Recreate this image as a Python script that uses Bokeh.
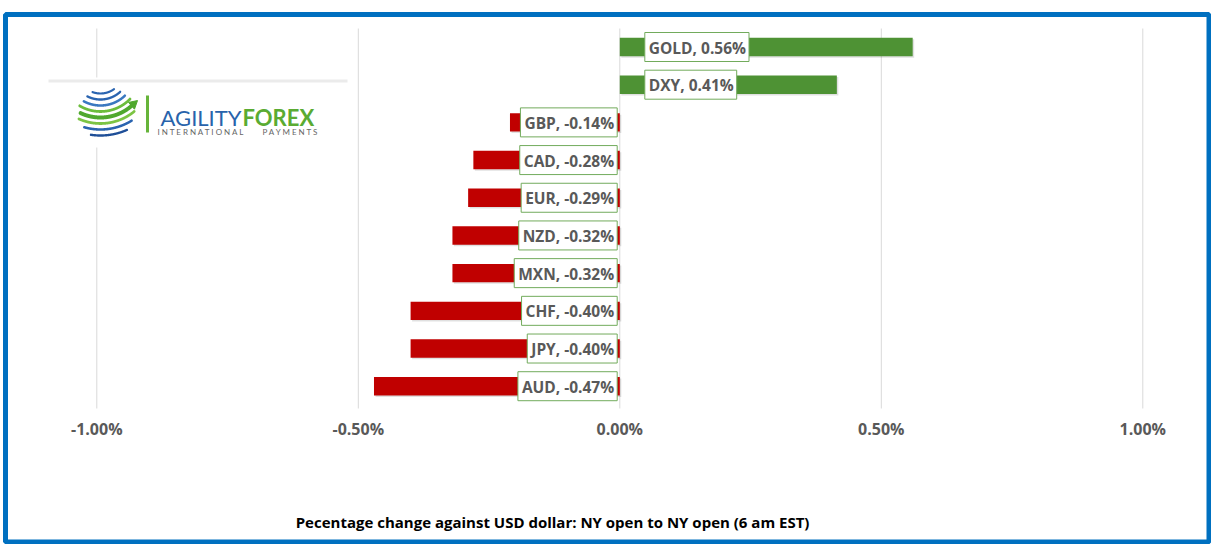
import numpy as np
from bokeh.plotting import figure
from bokeh.models import Range1d
from bokeh.embed import file_html
from bokeh.resources import INLINE
from bokeh.core.properties import value

# ---------------- data ----------------
names = ["GOLD", "DXY", "GBP", "CAD", "EUR", "NZD", "MXN", "CHF", "JPY", "AUD"]
label_values = [0.56, 0.41, -0.14, -0.28, -0.29, -0.32, -0.32, -0.40, -0.40, -0.47]
bar_values = [0.56, 0.415, -0.21, -0.28, -0.29, -0.32, -0.32, -0.40, -0.40, -0.47]
tick_values = [-1.0, -0.5, 0.0, 0.5, 1.0]
tick_labels = ["-1.00%", "-0.50%", "0.00%", "0.50%", "1.00%"]
title_text = "Pecentage change against USD dollar: NY open to NY open  (6 am EST)"

# ---------------- layout ----------------
W, H = 1211, 544
X0, SX = 619.3, 523.0     # canvas px of 0 %, px per 1 %
Y0, SY = 46.5, 37.69      # canvas px of first row, px per row


def dx(px):
    return (px - X0) / SX


def dy(py):
    return (py - Y0) / SY


p = figure(width=W, height=H,
           x_range=Range1d(-X0 / SX, (W - X0) / SX),
           y_range=Range1d((H - Y0) / SY, -Y0 / SY),
           x_axis_location=None, y_axis_location=None,
           toolbar_location=None, output_backend="svg",
           min_border=0, outline_line_color=None,
           background_fill_color="white", border_fill_color="white")
p.grid.visible = False

FONT = value("Open Sans")
GRAY = "#595959"

# grid lines
p.segment(x0=tick_values, y0=dy(28), x1=tick_values, y1=dy(408),
          line_color="#d9d9d9", line_width=1)

# tick labels
p.text(x=tick_values, y=dy(428), text=tick_labels, text_align="center",
       text_baseline="middle", text_font=FONT, text_font_style="bold",
       text_font_size="16px", text_color=GRAY)

# bars
rows = list(range(len(names)))
half = 9.2 / SY
lefts = [min(0, v) for v in bar_values]
rights = [max(0, v) for v in bar_values]
colors = ["#4e9234" if v > 0 else "#c00000" for v in bar_values]
ox, oy = 1.5 / SX, 1.5 / SY
p.quad(left=[l + ox for l in lefts], right=[r + ox for r in rights],
       top=[r - half + oy for r in rows], bottom=[r + half + oy for r in rows],
       fill_color="black", fill_alpha=0.12, line_color=None)
p.quad(left=lefts, right=rights, top=[r - half for r in rows],
       bottom=[r + half for r in rows], fill_color=colors, line_color=None)

# data labels
labels = [f"{n}, {v:.2f}%" for n, v in zip(names, label_values)]
aligns = ["left" if v > 0 else "right" for v in label_values]
offsets = [25 if v > 0 else -2.6 for v in label_values]
p.text(x=[0] * len(rows), y=rows, text=labels, text_align=aligns,
       x_offset=offsets, text_baseline="middle", text_font=FONT,
       text_font_style="bold", text_font_size="15.5px", text_color=GRAY,
       background_fill_color="white", border_line_color="#72ab5c",
       border_line_width=1, padding=(4, 3, 4, 3))

# ---------------- logo ----------------
p.quad(left=dx(48), right=dx(348), top=dy(77), bottom=dy(147),
       fill_color="white", line_color=None)
p.segment(x0=dx(48), y0=dy(80.5), x1=dx(347), y1=dy(80.5),
          line_color="#ebebeb", line_width=3)

# globe made of curved stripes
SXc, SYc, SR = 106.0, 113.5, 26.0      # sphere centre / radius (px)
CXc, CYc = 100.0, 70.0                 # centre of stripe curvature
stripes = [(23, "#2a64b0", 2.2), (29, "#2a64b0", 2.4), (35, "#3a78c0", 2.6),
           (41, "#6cbd3c", 2.8), (47, "#4fa82e", 4.0), (53, "#7cc444", 2.8),
           (59, "#2a64b0", 2.6), (65, "#1f4f98", 2.4), (70, "#1f4f98", 2.0)]
for r, col, w in stripes:
    xs = np.linspace(CXc - r + 0.01, CXc + r - 0.01, 500)
    ys = CYc + np.sqrt(r * r - (xs - CXc) ** 2)
    d = np.hypot(xs - SXc, ys - SYc)
    if col == "#4fa82e":
        keep = (d <= SR) | ((xs > SXc) & (xs <= 131))
    elif col in ("#6cbd3c", "#7cc444"):
        keep = d <= SR + 2
    else:
        keep = d <= SR
    if keep.sum() < 2:
        continue
    idx = np.where(keep)[0]
    xs, ys = xs[idx[0]:idx[-1] + 1], ys[idx[0]:idx[-1] + 1]
    p.line([dx(v) for v in xs], [dy(v) for v in ys], line_color=col,
           line_width=w, line_cap="round")

# arrow head on the thick green stripe
r = 47.0
ex = 131.0
ey = CYc + np.sqrt(r * r - (ex - CXc) ** 2)
tx, ty = -(ey - CYc), (ex - CXc)
n = np.hypot(tx, ty)
tx, ty = -tx / n, -ty / n
tipx, tipy = ex + 8 * tx, ey + 8 * ty
nx, ny = -ty, tx
p.patch(x=[dx(tipx), dx(ex + 4.5 * nx), dx(ex - 4.5 * nx)],
        y=[dy(tipy), dy(ey + 4.5 * ny), dy(ey - 4.5 * ny)],
        fill_color="#4fa82e", line_color="#4fa82e")

p.segment(x0=dx(147), y0=dy(95), x1=dx(147), y1=dy(132),
          line_color="#66b43a", line_width=3)

p.text(x=dx(241), y=dy(117), text=["AGILITY"], text_align="right",
       text_baseline="alphabetic", text_font=value("Lato"),
       text_font_size="22px", text_color="#2863ab")
p.text(x=dx(242), y=dy(117), text=["FOREX"], text_align="left",
       text_baseline="alphabetic", text_font=value("Lato"),
       text_font_style="bold", text_font_size="22px", text_color="#5aab32")
p.text(x=[dx(157), dx(262)], y=[dy(131), dy(131)],
       text=["I N T E R N A T I O N A L", "P A Y M E N T S"],
       text_align="left", text_baseline="alphabetic", text_font=value("Lato"),
       text_font_size="8px", text_color="#666666")

# ---------------- title ----------------
p.text(x=dx(554), y=dy(521), text=[title_text], text_align="center",
       text_baseline="middle", text_font=FONT, text_font_style="bold",
       text_font_size="15px", text_color="black")

# ---------------- border ----------------
p.quad(left=dx(5), right=dx(1208.5), top=dy(14), bottom=dy(541.5),
       fill_color=None, line_color="#0070c0", line_width=5)

open("out.html", "w").write(file_html(p, INLINE))
